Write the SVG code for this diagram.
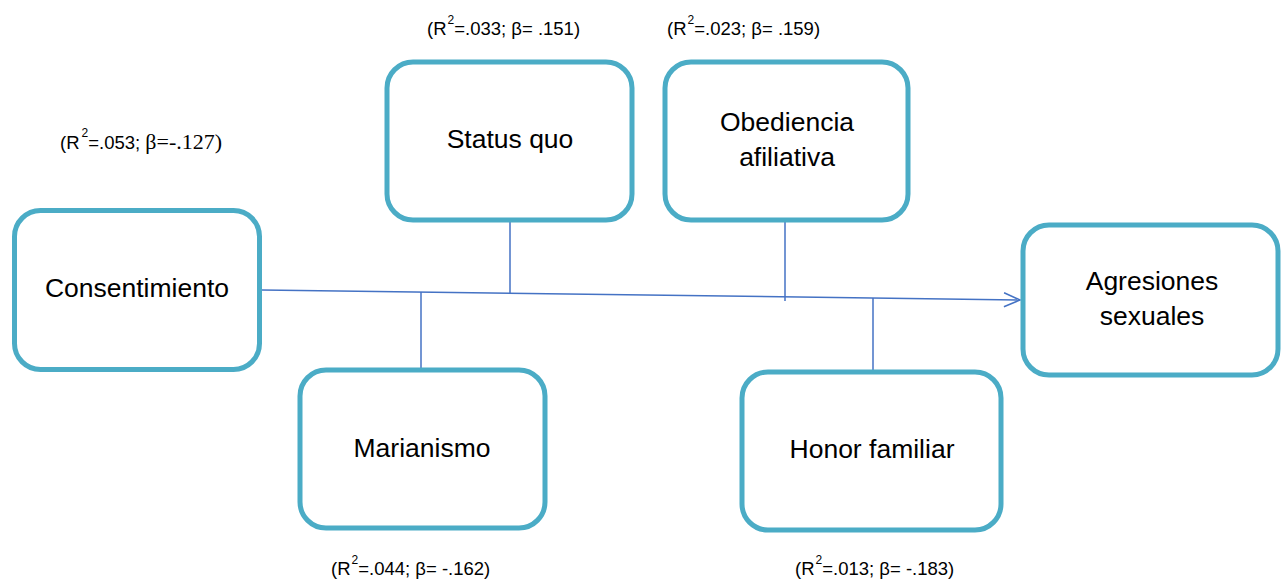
<svg xmlns="http://www.w3.org/2000/svg" width="1281" height="579" viewBox="0 0 1281 579">
<style>
.box{fill:#fff;stroke:#4BACC6;stroke-width:5}
.t{font-family:"Liberation Sans",Arial,sans-serif;font-size:26.5px;fill:#000;text-anchor:middle}
.l{font-family:"Liberation Sans",Arial,sans-serif;font-size:18.5px;fill:#000}
.s{font-size:12px}
.c{stroke:#4472C4;stroke-width:1.5;fill:none}
</style>
<defs>
<marker id="a" markerWidth="20" markerHeight="20" refX="17" refY="8" orient="auto" markerUnits="userSpaceOnUse">
<path d="M1,1 L17,8 L1,15" fill="none" stroke="#4472C4" stroke-width="1.5"/>
</marker>
</defs>
<g id="connectors">
<line class="c" x1="262" y1="290" x2="1020" y2="300" marker-end="url(#a)"/>
<line class="c" x1="510" y1="222" x2="510" y2="293"/>
<line class="c" x1="785" y1="222" x2="785" y2="301"/>
<line class="c" x1="421" y1="292" x2="421" y2="368"/>
<line class="c" x1="873" y1="298" x2="873" y2="377"/>
</g>
<g id="consentimiento">
<rect class="box" x="14.5" y="210.5" width="245" height="159" rx="26"/>
<text class="t" x="137" y="297">Consentimiento</text>
</g>
<g id="statusquo">
<rect class="box" x="387" y="62" width="245" height="158" rx="26"/>
<text class="t" x="510" y="148">Status quo</text>
</g>
<g id="obediencia">
<rect class="box" x="665" y="62" width="243" height="158" rx="26"/>
<text class="t" x="787" y="131">Obediencia</text>
<text class="t" x="787" y="166">afiliativa</text>
</g>
<g id="agresiones">
<rect class="box" x="1023" y="225" width="255" height="150" rx="26"/>
<text class="t" x="1152" y="290">Agresiones</text>
<text class="t" x="1152" y="325">sexuales</text>
</g>
<g id="marianismo">
<rect class="box" x="300" y="370" width="245" height="158" rx="26"/>
<text class="t" x="422" y="457">Marianismo</text>
</g>
<g id="honor">
<rect class="box" x="742" y="372" width="259" height="158" rx="26"/>
<text class="t" x="872" y="458">Honor familiar</text>
</g>
<g id="labels">
<text class="l" x="60" y="149">(R<tspan class="s" dx="2" dy="-12">2</tspan><tspan dy="12">=.053; </tspan><tspan font-family="'Liberation Serif',serif" font-size="22px">β=-.127)</tspan></text>
<text class="l" x="427" y="35">(R<tspan class="s" dx="1" dy="-11">2</tspan><tspan dy="11">=.033; β= .151)</tspan></text>
<text class="l" x="667" y="35">(R<tspan class="s" dx="1" dy="-11">2</tspan><tspan dy="11">=.023; β= .159)</tspan></text>
<text class="l" x="331" y="575">(R<tspan class="s" dx="1" dy="-11">2</tspan><tspan dy="11">=.044; β= -.162)</tspan></text>
<text class="l" x="795" y="575">(R<tspan class="s" dx="1" dy="-11">2</tspan><tspan dy="11">=.013; β= -.183)</tspan></text>
</g>
</svg>
